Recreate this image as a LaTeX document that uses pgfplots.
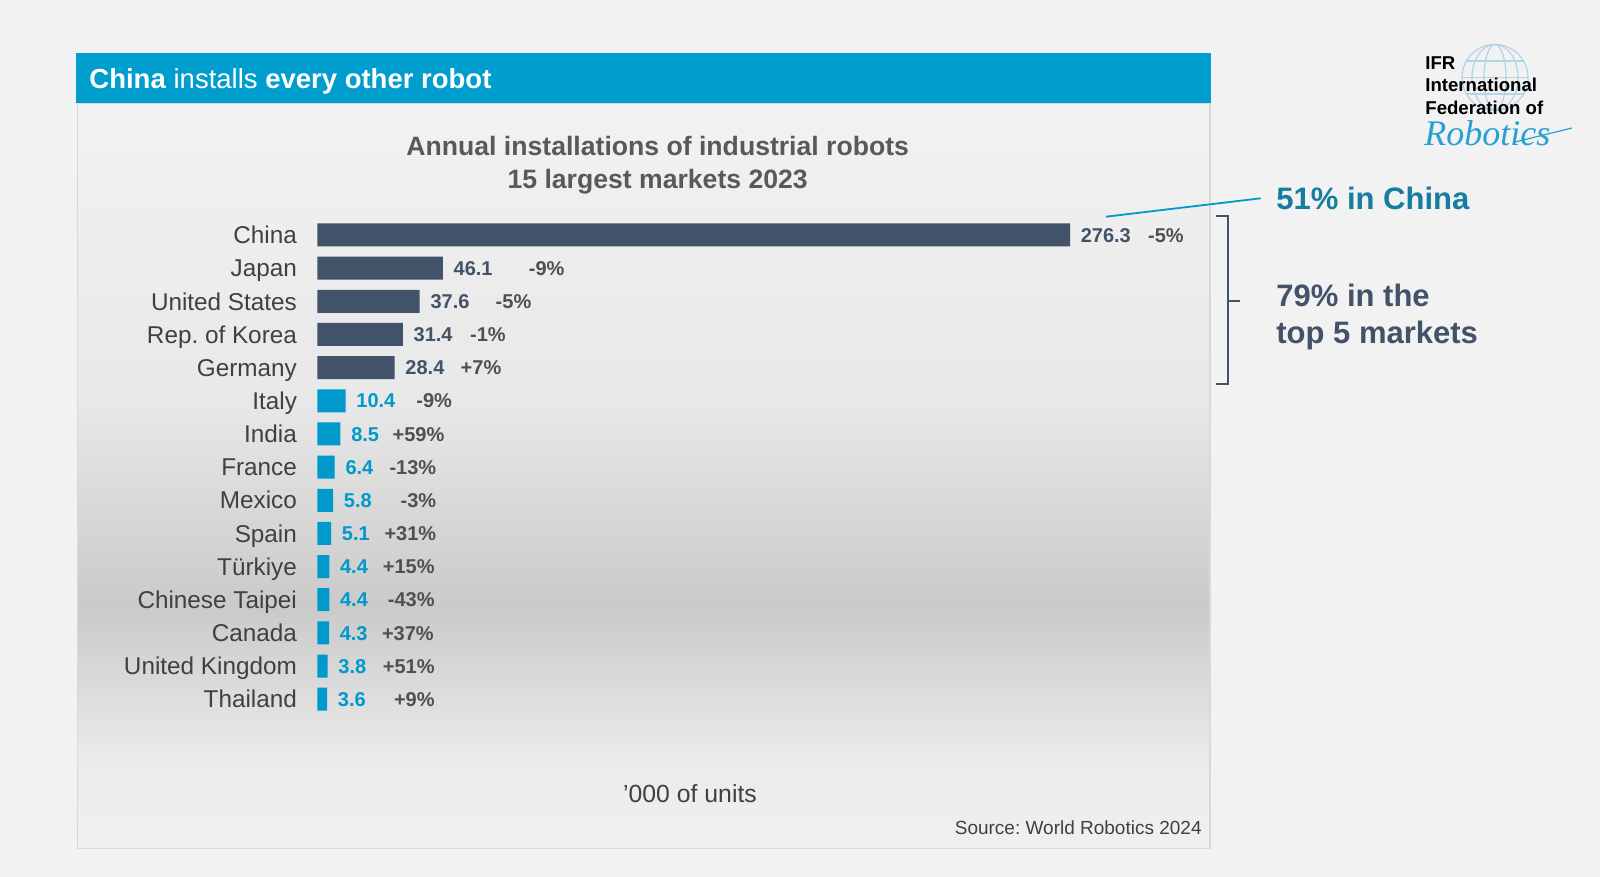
\documentclass[border=0pt]{standalone}
\usepackage{fontspec}
\setmainfont{Liberation Sans}
\newfontfamily\logoscript{Liberation Serif}
\usepackage{pgfplots}
\pgfplotsset{compat=1.18}
\usepackage{pgfplotstable}
\frenchspacing

\definecolor{slate}{RGB}{66,82,104}
\definecolor{barblue}{RGB}{0,153,204}
\definecolor{hdrblue}{RGB}{0,158,206}
\definecolor{tealtxt}{RGB}{22,125,160}
\definecolor{txtgray}{RGB}{64,64,64}
\definecolor{titlegray}{RGB}{89,89,89}
\definecolor{pctgray}{RGB}{80,80,80}
\definecolor{bggray}{RGB}{242,242,242}
\definecolor{globe}{RGB}{178,212,232}
\definecolor{logoblue}{RGB}{40,160,210}
\definecolor{gA}{RGB}{232,232,232}
\definecolor{gB}{RGB}{202,202,202}
\definecolor{gC}{RGB}{235,235,235}
\definecolor{gD}{RGB}{240,240,240}
\definecolor{panelborder}{RGB}{217,217,217}

\pgfplotstableread{
idx val
0 276.3
1 46.1
2 37.6
3 31.4
4 28.4
}\topfive

\pgfplotstableread{
idx val
5 10.4
6 8.5
7 6.4
8 5.8
9 5.1
10 4.4
11 4.4
12 4.3
13 3.8
14 3.6
}\others

\begin{document}
\begin{tikzpicture}[x=0.5pt,y=-0.5pt]
% background
\fill[bggray] (0,0) rectangle (1600,877);
\useasboundingbox (0,0) rectangle (1600,877);
% panel gradient
\shade[top color=bggray, bottom color=gA] (77.3,103.5) rectangle (1210,401);
\shade[top color=gA, bottom color=gB] (77.3,400) rectangle (1210,608);
\shade[top color=gB, bottom color=gC] (77.3,607) rectangle (1210,761);
\shade[top color=gC, bottom color=gD] (77.3,760) rectangle (1210,848.5);
\draw[panelborder, line width=0.75pt] (77.3,103.5) rectangle (1210,848.5);
% header bar
\fill[hdrblue] (75.7,53.3) rectangle (1211,102.7);
\node[anchor=west, text=white, inner sep=0pt, text height=9.9pt, text depth=0pt, font=\fontsize{13.75pt}{16pt}\selectfont] at (89,78.3)
  {\textbf{China} installs \textbf{every other robot}};
% chart title
\node[align=center, text=titlegray, font=\fontsize{13.3pt}{16.3pt}\selectfont\bfseries] at (657.7,165.3)
  {Annual installations of industrial robots\\15 largest markets 2023};

\begin{axis}[
  at={(158.65pt,-109.2pt)}, anchor=north west,
  scale only axis, width=376.35pt, height=248.7pt,
  xmin=0, xmax=276.3, ymin=-0.5, ymax=14.5, y dir=reverse,
  xbar, bar width=11.5pt, bar shift=0pt,
  axis line style={draw=none}, xtick=\empty,
  ytick={0,...,14},
  yticklabels={China,Japan,United States,Rep. of Korea,Germany,Italy,India,France,Mexico,Spain,Türkiye,Chinese Taipei,Canada,United Kingdom,Thailand},
  tick style={draw=none}, major tick length=0pt,
  yticklabel style={font=\fontsize{12.15pt}{14pt}\selectfont, text=txtgray, inner sep=0pt, xshift=-10pt, text height=8.7pt, text depth=0pt},
  clip=false,
  nodes near coords,
  point meta=explicit symbolic,
]
\addplot[fill=slate, draw=none,
  every node near coord/.append style={anchor=west, text=slate, inner sep=0pt, xshift=5.2pt, yshift=0pt, text height=7.16pt, text depth=0pt, font=\fontsize{10pt}{12pt}\selectfont\bfseries}]
  table[x=val, y=idx, meta=val] {\topfive};
\addplot[fill=barblue, draw=none,
  every node near coord/.append style={anchor=west, text=barblue, inner sep=0pt, xshift=5.2pt, yshift=0pt, text height=7.16pt, text depth=0pt, font=\fontsize{10pt}{12pt}\selectfont\bfseries}]
  table[x=val, y=idx, meta=val] {\others};
% year-on-year change labels
\begin{scope}[every node/.style={anchor=east, inner sep=0pt, text=pctgray, text height=7.16pt, text depth=0pt, font=\fontsize{10pt}{12pt}\selectfont\bfseries}]
\node at (axis cs:318.2,0) {-5\%};
\node at (axis cs:90.9,1) {-9\%};
\node at (axis cs:78.7,2) {-5\%};
\node at (axis cs:69.3,3) {-1\%};
\node at (axis cs:67.7,4) {+7\%};
\node at (axis cs:49.6,5) {-9\%};
\node at (axis cs:46.8,6) {+59\%};
\node at (axis cs:43.8,7) {-13\%};
\node at (axis cs:43.8,8) {-3\%};
\node at (axis cs:43.8,9) {+31\%};
\node at (axis cs:43.2,10) {+15\%};
\node at (axis cs:43.2,11) {-43\%};
\node at (axis cs:42.9,12) {+37\%};
\node at (axis cs:43.2,13) {+51\%};
\node at (axis cs:43.2,14) {+9\%};
\end{scope}
\end{axis}

% unit and source
\node[text=txtgray, font=\fontsize{12.4pt}{14pt}\selectfont] at (690,794) {'000 of units};
\node[anchor=east, inner sep=0pt, text=txtgray, font=\fontsize{9.5pt}{11pt}\selectfont] at (1202,827.6) {Source: World Robotics 2024};

% annotations
\draw[barblue, line width=0.9pt] (1106,216.7) -- (1260.7,198.3);
\draw[slate, line width=1pt] (1216,216) -- (1228.3,216) -- (1228.3,384) -- (1216,384);
\draw[slate, line width=1pt] (1228.3,300.7) -- (1240,300.7);
\node[anchor=west, inner sep=0pt, text=tealtxt, font=\fontsize{15.5pt}{18pt}\selectfont\bfseries] at (1276,198.3) {51\% in China};
\node[anchor=west, inner sep=0pt, align=left, text=slate, font=\fontsize{15.5pt}{18.35pt}\selectfont\bfseries] at (1276,316.7) {79\% in the\\top 5 markets};

% logo
\begin{scope}[globe, line width=0.6pt]
\draw (1495,77.5) circle (33);
\draw (1495,77.5) ellipse (11 and 33);
\draw (1495,77.5) ellipse (23 and 33);
\draw (1462,77.5) -- (1528,77.5);
\draw (1466,61) -- (1524,61);
\draw (1466,94) -- (1524,94);
\end{scope}
\node[anchor=west, inner sep=0pt, align=left, text=black, font=\fontsize{9.3pt}{11.25pt}\selectfont\bfseries] at (1425,85.5) {IFR\\International\\Federation of};
\node[anchor=west, inner sep=0pt, text=logoblue, font=\logoscript\itshape\fontsize{18pt}{20pt}\selectfont] at (1424,133) {Robotics};
\draw[logoblue, line width=0.6pt] (1515,142) -- (1572,128);
\end{tikzpicture}
\end{document}
